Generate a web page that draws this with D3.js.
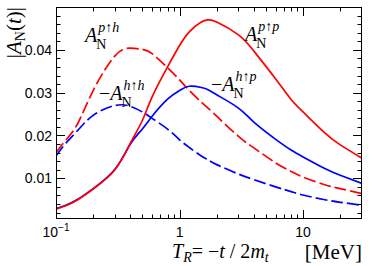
<!DOCTYPE html>
<html>
<head>
<meta charset="utf-8">
<script src="https://cdn.jsdelivr.net/npm/d3@7"></script>
<style>
html, body { margin: 0; padding: 0; background: #fff; }
svg { display: block; }
</style>
</head>
<body>
<div id="chart"></div>
<script>
// recoil kinetic energy T_R [MeV], shared grid for all curves
var tR = [0.1, 0.12, 0.15, 0.2, 0.3, 0.4, 0.5, 0.6, 0.8, 1, 1.2, 1.5, 1.7, 2, 3, 4, 6, 8, 10, 15, 20, 30];
// A_N^{p↑p}  (red solid)
var anPp = [0.0028, 0.0036, 0.0050, 0.0075, 0.0120, 0.0182, 0.0235, 0.0290, 0.0360, 0.0410, 0.0442, 0.0465, 0.0470, 0.0465, 0.0435, 0.0397, 0.0332, 0.0284, 0.0255, 0.0206, 0.0178, 0.0147];
// A_N^{p↑h}  (red dashed)
var anPh = [0.0160, 0.0189, 0.0228, 0.0305, 0.0386, 0.0404, 0.0401, 0.0391, 0.0358, 0.0330, 0.0305, 0.0278, 0.0264, 0.0245, 0.0198, 0.0171, 0.0136, 0.0116, 0.0103, 0.0085, 0.0076, 0.0064];
// -A_N^{h↑p} (blue solid)
var anHp = [0.0029, 0.0037, 0.0051, 0.0076, 0.0121, 0.0180, 0.0215, 0.0245, 0.0285, 0.0305, 0.0315, 0.0312, 0.0307, 0.0295, 0.0264, 0.0231, 0.0191, 0.0166, 0.0150, 0.0123, 0.0107, 0.0088];
// -A_N^{h↑h} (blue dashed)
var anHh = [0.0152, 0.0182, 0.0212, 0.0247, 0.0270, 0.0268, 0.0255, 0.0240, 0.0215, 0.0190, 0.0172, 0.0152, 0.0143, 0.0132, 0.0110, 0.0097, 0.0080, 0.0069, 0.0061, 0.0050, 0.0044, 0.0037];

var yTicks = [0.01, 0.02, 0.03, 0.04];
var yTickLabels = ["0.01", "0.02", "0.03", "0.04"];
var xTicks = [0.1, 1, 10];
var xTickBase = ["10", "1", "10"];
var xTickExp = ["-1", "", ""];

var width = 374, height = 266;
var frame = { left: 56, top: 7, right: 362, bottom: 219 };

var svg = d3.select("#chart").append("svg")
    .attr("width", width)
    .attr("height", height)
    .style("background", "#fff");

var x = d3.scaleLog().domain([0.1, 30]).range([frame.left, frame.right]);
var y = d3.scaleLinear().domain([0.0005, 0.05]).range([frame.bottom, frame.top]);

svg.append("clipPath").attr("id", "clip")
    .append("rect")
    .attr("x", frame.left).attr("y", frame.top)
    .attr("width", frame.right - frame.left)
    .attr("height", frame.bottom - frame.top);

// curves
var series = [
    { vals: anPh, color: "#ff0000", dash: "12,4" },
    { vals: anHh, color: "#0000ff", dash: "12,4" },
    { vals: anHp, color: "#0000ff", dash: null },
    { vals: anPp, color: "#ff0000", dash: null }
];

var line = d3.line()
    .x(d => x(d[0]))
    .y(d => y(d[1]))
    .curve(d3.curveNatural);

svg.append("g").attr("clip-path", "url(#clip)")
    .selectAll("path")
    .data(series)
    .enter()
    .append("path")
    .attr("d", s => line(tR.map((t, i) => [t, s.vals[i]])))
    .attr("fill", "none")
    .attr("stroke", s => s.color)
    .attr("stroke-width", 1.7)
    .attr("stroke-dasharray", s => s.dash);

// ticks (ROOT style, inside, on all four sides)
var xMinor = [];
[0.1, 1, 10].forEach(function (dec) {
    for (var k = 2; k <= 9; k++) {
        var v = dec * k;
        if (v < 30) xMinor.push(v);
    }
});
var yMinor = d3.range(1, 25).map(i => i * 0.002).filter(v => yTicks.indexOf(+v.toFixed(3)) < 0);

var tk = svg.append("g").attr("stroke", "#000").attr("stroke-width", 1);
function xTick(v, len) {
    var px = Math.round(x(v)) + 0.5;
    tk.append("line").attr("x1", px).attr("x2", px).attr("y1", frame.bottom).attr("y2", frame.bottom - len);
    tk.append("line").attr("x1", px).attr("x2", px).attr("y1", frame.top).attr("y2", frame.top + len);
}
function yTick(v, len) {
    var py = Math.round(y(v)) + 0.5;
    tk.append("line").attr("y1", py).attr("y2", py).attr("x1", frame.left).attr("x2", frame.left + len);
    tk.append("line").attr("y1", py).attr("y2", py).attr("x1", frame.right).attr("x2", frame.right - len);
}
xTicks.forEach(v => xTick(v, 9));
xMinor.forEach(v => xTick(v, 4.5));
yTicks.forEach(v => yTick(v, 9));
yMinor.forEach(v => yTick(v, 4.5));

svg.append("rect")
    .attr("x", frame.left + 0.5).attr("y", frame.top + 0.5)
    .attr("width", frame.right - frame.left - 1)
    .attr("height", frame.bottom - frame.top - 1)
    .attr("fill", "none")
    .attr("stroke", "#000")
    .attr("stroke-width", 1);

// tick labels
svg.selectAll(".ylab")
    .data(yTicks)
    .enter()
    .append("text")
    .attr("x", frame.left - 4)
    .attr("y", d => y(d))
    .attr("dy", "0.36em")
    .attr("text-anchor", "end")
    .style("font-family", "'Liberation Sans', Arial, sans-serif")
    .style("font-size", "14px")
    .text((d, i) => yTickLabels[i]);

xTicks.forEach(function (v, i) {
    var t = svg.append("text")
        .attr("x", x(v))
        .attr("y", 237)
        .attr("text-anchor", "middle")
        .style("font-family", "'Liberation Sans', Arial, sans-serif")
        .style("font-size", "14px");
    t.append("tspan").text(xTickBase[i]);
    if (xTickExp[i]) {
        t.append("tspan").attr("dy", -6).style("font-size", "10px").text(xTickExp[i].replace("-", "\u2212"));
    }
});

// axis titles
var serif = "'Liberation Serif', 'Times New Roman', serif";
var xt = svg.append("text")
    .attr("x", 172)
    .attr("y", 258)
    .style("font-family", serif)
    .style("font-size", "20px");
xt.append("tspan").style("font-style", "italic").text("T");
xt.append("tspan").attr("dy", 4).style("font-style", "italic").style("font-size", "14px").text("R");
xt.append("tspan").attr("dy", -4).text("= \u2212");
xt.append("tspan").style("font-style", "italic").text("t");
xt.append("tspan").text(" / 2");
xt.append("tspan").style("font-style", "italic").text("m");
xt.append("tspan").attr("dy", 4).style("font-style", "italic").style("font-size", "14px").text("t");
svg.append("text")
    .attr("x", 362)
    .attr("y", 259)
    .attr("text-anchor", "end")
    .style("font-family", serif)
    .style("font-size", "21px")
    .text("[MeV]");

var yt = svg.append("text")
    .attr("transform", "translate(21,7) rotate(-90)")
    .attr("text-anchor", "end")
    .style("font-family", serif)
    .style("font-size", "21px");
yt.append("tspan").text("|");
yt.append("tspan").style("font-style", "italic").text("A");
yt.append("tspan").attr("dy", 4).style("font-size", "14px").text("N");
yt.append("tspan").attr("dy", -4).text("(");
yt.append("tspan").style("font-style", "italic").text("t");
yt.append("tspan").text(")|");

// curve labels: A_N with stacked sub/superscripts
var curveLabels = [
    { pre: "", sup: "p\u2191h", x: 85, y: 42 },
    { pre: "", sup: "p\u2191p", x: 245, y: 41 },
    { pre: "\u2212", sup: "h\u2191p", x: 211, y: 91 },
    { pre: "\u2212", sup: "h\u2191h", x: 99, y: 100 }
];
curveLabels.forEach(function (c) {
    var g = svg.append("g").attr("transform", "translate(" + c.x + "," + c.y + ")")
        .style("font-family", serif);
    var main = g.append("text").style("font-size", "20px");
    if (c.pre) main.append("tspan").text(c.pre);
    main.append("tspan").style("font-style", "italic").text("A");
    var w = main.node().getComputedTextLength();
    g.append("text").attr("x", w - 1).attr("y", 7)
        .style("font-size", "14px").text("N");
    g.append("text").attr("x", w + 1).attr("y", -10)
        .style("font-size", "14px").style("font-style", "italic").text(c.sup);
});
</script>
</body>
</html>
